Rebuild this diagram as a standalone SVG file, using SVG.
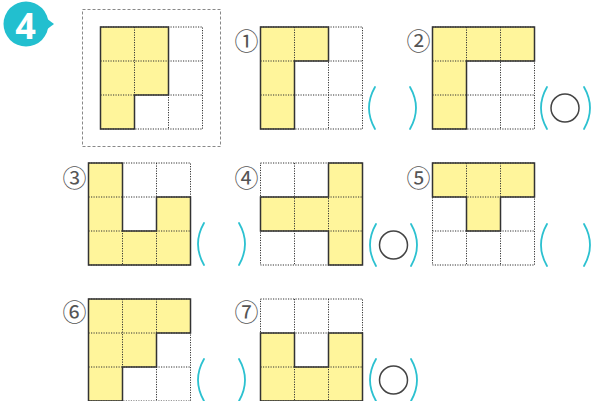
<svg xmlns="http://www.w3.org/2000/svg" width="603" height="401" viewBox="0 0 603 401">
<style>
.grid{fill:none;stroke:#333;stroke-width:1;stroke-dasharray:1.2 1.3}
.cell{fill:#fff59b;stroke:none}
.shape{fill:none;stroke:#333;stroke-width:1.5;stroke-linejoin:miter}
.paren{fill:none;stroke:#2cc1d0;stroke-width:1.8;stroke-linecap:round}
.mark{fill:none;stroke:#444;stroke-width:1.5}
.lbl{font-family:"Noto Sans CJK JP","DejaVu Sans",sans-serif;font-size:24px;fill:#555;text-anchor:middle;dominant-baseline:central}
</style>
<defs>
<g id="g3">
<rect x="0" y="0" width="102" height="102" class="grid"/>
<path d="M34,0V102M68,0V102M0,34H102M0,68H102" class="grid"/>
</g>
</defs>
<g id="badge">
<circle cx="26" cy="24" r="22.5" fill="#22bfcf"/>
<path d="M46,18 L54,24 L46,30 Z" fill="#22bfcf"/>
<text x="25.5" y="25" font-family="'Open Sans',sans-serif" font-weight="bold" font-size="36" fill="#fff" text-anchor="middle" dominant-baseline="central">4</text>
</g>
<g id="example">
<rect x="82.5" y="9.5" width="138" height="137" fill="none" stroke="#888" stroke-width="1" stroke-dasharray="3 2"/>
<g transform="translate(100.5,27)">
<path class="cell" d="M0,0H68V68H34V102H0Z"/>
<use href="#g3"/>
<path class="shape" d="M0,0H68V68H34V102H0Z"/>
</g>
</g>
<g id="q1">
<text class="lbl" x="246.5" y="39">①</text>
<g transform="translate(260.5,27)">
<path class="cell" d="M0,0H68V34H34V102H0Z"/>
<use href="#g3"/>
<path class="shape" d="M0,0H68V34H34V102H0Z"/>
</g>
<path class="paren" d="M375,87Q363,108 375,129"/>
<path class="paren" d="M410,87Q422,108 410,129"/>
</g>
<g id="q2">
<text class="lbl" x="418.5" y="39">②</text>
<g transform="translate(432.5,27)">
<path class="cell" d="M0,0H102V34H34V102H0Z"/>
<use href="#g3"/>
<path class="shape" d="M0,0H102V34H34V102H0Z"/>
</g>
<path class="paren" d="M547,87Q535,108 547,129"/>
<path class="paren" d="M584,87Q596,108 584,129"/>
<circle class="mark" cx="565" cy="108" r="14"/>
</g>
<g id="q3">
<text class="lbl" x="74.5" y="176">③</text>
<g transform="translate(88.5,163)">
<path class="cell" d="M0,0H34V68H68V34H102V102H0Z"/>
<use href="#g3"/>
<path class="shape" d="M0,0H34V68H68V34H102V102H0Z"/>
</g>
<path class="paren" d="M204,223Q192,244 204,265"/>
<path class="paren" d="M239,223Q251,244 239,265"/>
</g>
<g id="q4">
<text class="lbl" x="246.5" y="176">④</text>
<g transform="translate(260.5,163)">
<path class="cell" d="M68,0H102V102H68V68H0V34H68Z"/>
<use href="#g3"/>
<path class="shape" d="M68,0H102V102H68V68H0V34H68Z"/>
</g>
<path class="paren" d="M376,224Q364,245 376,266"/>
<path class="paren" d="M411,224Q423,245 411,266"/>
<circle class="mark" cx="393.5" cy="245" r="14"/>
</g>
<g id="q5">
<text class="lbl" x="418.5" y="176">⑤</text>
<g transform="translate(432.5,163)">
<path class="cell" d="M0,0H102V34H68V68H34V34H0Z"/>
<use href="#g3"/>
<path class="shape" d="M0,0H102V34H68V68H34V34H0Z"/>
</g>
<path class="paren" d="M547,224Q535,245 547,266"/>
<path class="paren" d="M584,224Q596,245 584,266"/>
</g>
<g id="q6">
<text class="lbl" x="74.5" y="310">⑥</text>
<g transform="translate(88.5,299)">
<path class="cell" d="M0,0H102V34H68V68H34V102H0Z"/>
<use href="#g3"/>
<path class="shape" d="M0,0H102V34H68V68H34V102H0Z"/>
</g>
<path class="paren" d="M204,359Q192,380 204,401"/>
<path class="paren" d="M239,359Q251,380 239,401"/>
</g>
<g id="q7">
<text class="lbl" x="246.5" y="310">⑦</text>
<g transform="translate(260.5,299)">
<path class="cell" d="M0,34H34V68H68V34H102V102H0Z"/>
<use href="#g3"/>
<path class="shape" d="M0,34H34V68H68V34H102V102H0Z"/>
</g>
<path class="paren" d="M376,359Q364,380 376,401"/>
<path class="paren" d="M411,359Q423,380 411,401"/>
<circle class="mark" cx="393.5" cy="380" r="14"/>
</g>
</svg>
